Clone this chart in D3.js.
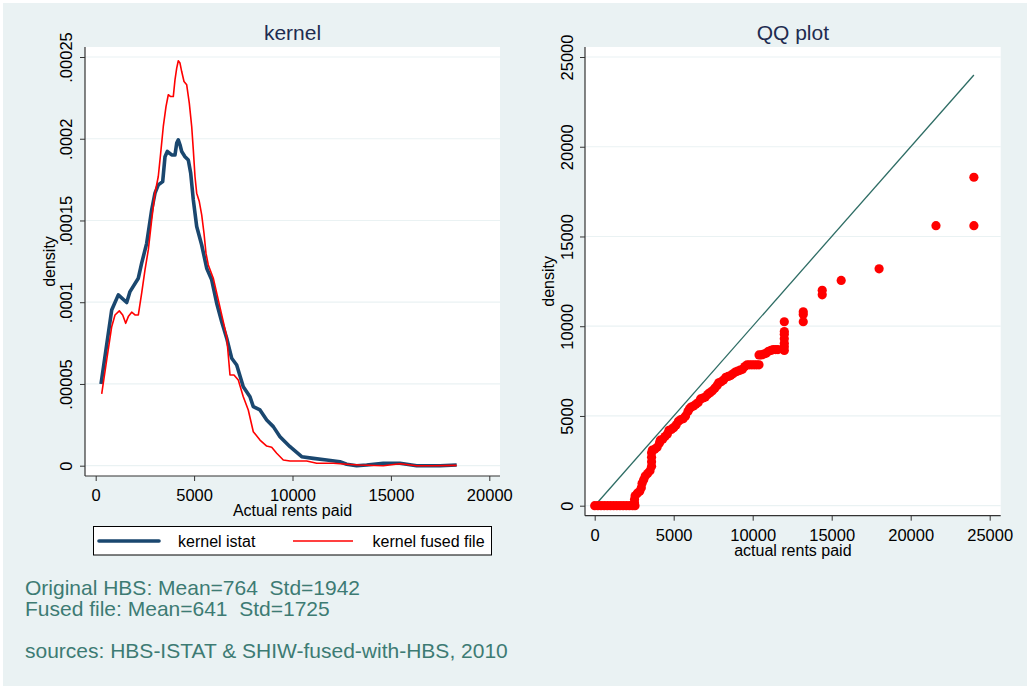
<!DOCTYPE html>
<html>
<head>
<meta charset="utf-8">
<script src="https://cdn.jsdelivr.net/npm/d3@7"></script>
<style>
  html, body { margin: 0; padding: 0; background: #ffffff; }
  svg { display: block; font-family: "Liberation Sans", Arial, Helvetica, sans-serif; }
</style>
</head>
<body>
<svg id="chart" width="1036" height="689"></svg>
<script>
// ---------------- DATA ----------------
// Kernel density of actual rents paid, HBS-ISTAT (x = rent, y = density)
const istatX = [270, 813, 1149, 1575, 1743, 2166, 2336, 2590, 2845, 3013, 3180, 3404, 3521, 3638, 3862, 4029, 4116, 4197, 4283, 4370, 4537, 4705, 4827, 4960, 5132, 5386, 5640, 5894, 6148, 6402, 6656, 6910, 7164, 7499, 7840, 8008, 8348, 8689, 9024, 9364, 9873, 10467, 11056, 11737, 12413, 12753, 13261, 13769, 14613, 15462, 16310, 17494, 18342];
const istatY = [0.0000500, 0.0000953, 0.0001045, 0.0000998, 0.0001065, 0.0001147, 0.0001239, 0.0001360, 0.0001565, 0.0001667, 0.0001718, 0.0001738, 0.0001890, 0.0001922, 0.0001901, 0.0001901, 0.0001973, 0.0001993, 0.0001963, 0.0001922, 0.0001890, 0.0001870, 0.0001790, 0.0001626, 0.0001463, 0.0001350, 0.0001208, 0.0001137, 0.0000994, 0.0000881, 0.0000780, 0.0000657, 0.0000616, 0.0000483, 0.0000422, 0.0000361, 0.0000341, 0.0000280, 0.0000239, 0.0000177, 0.0000116, 0.0000055, 0.0000045, 0.0000035, 0.0000024, 0.0000009, 0.0000000, 0.0000004, 0.0000015, 0.0000015, 0.0000000, 0.0000000, 0.0000004];

// Kernel density of actual rents paid, SHIW fused with HBS
const fusedX = [305, 559, 813, 981, 1200, 1372, 1524, 1656, 1829, 1997, 2166, 2336, 2505, 2673, 2845, 3013, 3180, 3302, 3435, 3572, 3689, 3811, 3943, 4029, 4116, 4197, 4283, 4370, 4487, 4624, 4756, 4878, 4960, 5045, 5132, 5264, 5386, 5503, 5604, 5721, 5975, 6229, 6483, 6656, 6824, 7027, 7245, 7499, 7753, 8008, 8348, 8689, 8943, 9197, 9532, 9873, 10721, 11229, 12072, 12753, 13431, 14613, 15462, 16310, 17154, 18342];
const fusedY = [0.0000439, 0.0000647, 0.0000850, 0.0000922, 0.0000947, 0.0000922, 0.0000871, 0.0000912, 0.0000939, 0.0000922, 0.0000922, 0.0001055, 0.0001198, 0.0001320, 0.0001504, 0.0001667, 0.0001769, 0.0001912, 0.0002075, 0.0002197, 0.0002269, 0.0002258, 0.0002258, 0.0002360, 0.0002432, 0.0002477, 0.0002463, 0.0002411, 0.0002350, 0.0002330, 0.0002218, 0.0002075, 0.0001932, 0.0001769, 0.0001667, 0.0001616, 0.0001534, 0.0001422, 0.0001300, 0.0001228, 0.0001147, 0.0001014, 0.0000881, 0.0000789, 0.0000555, 0.0000555, 0.0000524, 0.0000422, 0.0000341, 0.0000208, 0.0000157, 0.0000120, 0.0000113, 0.0000076, 0.0000035, 0.0000029, 0.0000029, 0.0000015, 0.0000015, 0.0000009, 0.0000004, 0.0000000, 0.0000012, 0.0000000, 0.0000000, 0.0000002];

// QQ plot: quantiles of actual rents paid (x) vs fused-file quantiles (y)
const qqX = [0, 200, 400, 600, 800, 1000, 1200, 1400, 1600, 1800, 2000, 2200, 2400, 2550,
  2520, 2520, 2560, 2700, 2850, 2950, 3000, 3100, 3200, 3350, 3500, 3600, 3600, 3600, 3600, 3650,
  3800, 3950, 4100, 4150, 4300, 4450, 4600, 4700, 4850, 5000, 5150, 5300, 5450, 5600, 5750, 5900,
  6000, 6100, 6250, 6400, 6550, 6700, 6850, 7000, 7150, 7300, 7450, 7600, 7750, 7850, 8000, 8150,
  8300, 8450, 8600, 8750, 8900, 9050, 9200, 9350, 9500, 9650, 9800, 9950, 10100, 10250, 10400,
  10400, 10550, 10700, 10850, 11000, 11150, 11300, 11450, 11600, 12000, 12000, 12000, 12000,
  12000, 12000, 12000, 13200, 13200, 13200, 14400, 14400, 15600, 18000, 21600, 24000, 24000];
const qqY = [0, 0, 0, 0, 0, 0, 0, 0, 0, 0, 0, 0, 0, 0,
  150, 350, 550, 700, 800, 1000, 1250, 1450, 1650, 1800, 1950, 2200, 2450, 2700, 2950, 3100,
  3150, 3250, 3500, 3650, 3700, 3850, 4000, 4200, 4250, 4350, 4500, 4700, 4800, 4850, 5000, 5250,
  5400, 5500, 5550, 5650, 5750, 5950, 6000, 6050, 6200, 6300, 6400, 6550, 6700, 6850, 6900, 7000,
  7150, 7200, 7250, 7350, 7450, 7500, 7550, 7600, 7750, 7850, 7850, 7850, 7850, 7850, 7850,
  8400, 8400, 8450, 8500, 8600, 8650, 8700, 8700, 8700, 8650, 8850, 9050, 9300,
  9550, 9700, 10250, 10250, 10650, 10800, 11750, 12000, 12550, 13200, 15600, 15600, 18300];
const qqLine = [0, 24000];

const kernelXTicks = [0, 5000, 10000, 15000, 20000];
const kernelYTicks = [0, 0.00005, 0.0001, 0.00015, 0.0002, 0.00025];
const kernelYLabels = ["0", ".00005", ".0001", ".00015", ".0002", ".00025"];
const qqTicks = [0, 5000, 10000, 15000, 20000, 25000];

const legendLabels = ["kernel istat", "kernel fused file"];
const noteLines = ["Original HBS: Mean=764  Std=1942", "Fused file: Mean=641  Std=1725", "", "sources: HBS-ISTAT & SHIW-fused-with-HBS, 2010"];

// ---------------- STYLE ----------------
const BG = "#eaf2f3", TITLE = "#1e2c50", NOTE = "#3d7b73", AXIS = "#333333";
const BLUE = "#1a476f", RED = "#ff0000", TEAL = "#2d6c64";

const svg = d3.select("#chart");
svg.append("rect").attr("x", 0).attr("y", 0).attr("width", 1036).attr("height", 689).attr("fill", "#ffffff");
svg.append("rect").attr("x", 3).attr("y", 3).attr("width", 1024).attr("height", 683).attr("fill", BG);

function panel(opts) {
  const g = svg.append("g");
  const [x0, x1] = opts.plotX, [y0, y1] = opts.plotY;
  g.append("rect").attr("x", x0).attr("y", y0).attr("width", x1 - x0).attr("height", y1 - y0).attr("fill", "#ffffff");
  // grid
  g.selectAll("line.grid").data(opts.yTicks).join("line")
    .attr("x1", x0).attr("x2", x1)
    .attr("y1", d => opts.y(d)).attr("y2", d => opts.y(d))
    .attr("stroke", BG).attr("stroke-width", 1.2);
  // axes
  const ay = g.append("g").attr("transform", `translate(${x0},0)`)
    .call(d3.axisLeft(opts.y).tickValues(opts.yTicks).tickFormat(opts.yFmt).tickSize(5).tickSizeOuter(0));
  ay.select(".domain").remove();
  ay.selectAll(".tick line").attr("stroke", AXIS);
  ay.selectAll("text").attr("x", null).attr("dy", null).attr("y", null)
    .attr("text-anchor", "middle").attr("transform", `translate(${opts.yLabOff},0) rotate(-90)`)
    .attr("font-size", 16.5).attr("fill", "#000").attr("font-family", null);
  const ax = g.append("g").attr("transform", `translate(0,${y1})`)
    .call(d3.axisBottom(opts.x).tickValues(opts.xTicks).tickFormat(d3.format("d")).tickSize(5).tickSizeOuter(0));
  ax.select(".domain").remove();
  ax.selectAll(".tick line").attr("stroke", AXIS);
  ax.selectAll("text").attr("dy", null).attr("y", 25).attr("font-size", 16.5).attr("fill", "#000").attr("font-family", null);
  g.append("line").attr("x1", x0).attr("x2", x0).attr("y1", y0).attr("y2", y1).attr("stroke", AXIS).attr("stroke-width", 1.2);
  g.append("line").attr("x1", x0).attr("x2", x1).attr("y1", y1).attr("y2", y1).attr("stroke", AXIS).attr("stroke-width", 1.2);
  // titles
  const cx = (x0 + x1) / 2, cy = (y0 + y1) / 2;
  g.append("text").attr("x", cx).attr("y", 40).attr("text-anchor", "middle")
    .attr("font-size", 21).attr("fill", TITLE).text(opts.title);
  g.append("text").attr("x", cx).attr("y", y1 + 40).attr("text-anchor", "middle")
    .attr("font-size", 16).attr("fill", "#000").text(opts.xTitle);
  g.append("text").attr("transform", `translate(${x0 + opts.yTitleOff},${cy}) rotate(-90)`)
    .attr("text-anchor", "middle").attr("font-size", 16).attr("fill", "#000").text(opts.yTitle);
  return g;
}

// ---------------- LEFT: kernel ----------------
const xL = d3.scaleLinear().domain([0, 20000]).range([95.7, 489.3]);
const yL = d3.scaleLinear().domain([0, 0.00025]).range([465.7, 57]);
const gL = panel({
  plotX: [85, 500], plotY: [47, 476], x: xL, y: yL,
  xTicks: kernelXTicks, yTicks: kernelYTicks,
  yFmt: (d, i) => kernelYLabels[i], yLabOff: -13,
  title: "kernel", xTitle: "Actual rents paid", yTitle: "density", yTitleOff: -30
});
const lineL = d3.line().x(d => xL(d[0])).y(d => yL(d[1]));
gL.append("path").datum(istatX.map((x, i) => [x, istatY[i]]))
  .attr("d", lineL).attr("fill", "none").attr("stroke", BLUE).attr("stroke-width", 3.6).attr("stroke-linejoin", "round");
gL.append("path").datum(fusedX.map((x, i) => [x, fusedY[i]]))
  .attr("d", lineL).attr("fill", "none").attr("stroke", RED).attr("stroke-width", 1.6).attr("stroke-linejoin", "round");

// legend
const lg = svg.append("g");
lg.append("rect").attr("x", 93.5).attr("y", 526.5).attr("width", 398).attr("height", 28.5)
  .attr("fill", "#fff").attr("stroke", "#000").attr("stroke-width", 1);
lg.append("line").attr("x1", 99).attr("x2", 159).attr("y1", 541).attr("y2", 541)
  .attr("stroke", BLUE).attr("stroke-width", 3.6).attr("stroke-linecap", "round");
lg.append("line").attr("x1", 293).attr("x2", 353).attr("y1", 541).attr("y2", 541)
  .attr("stroke", RED).attr("stroke-width", 1.6);
lg.selectAll("text").data(legendLabels).join("text")
  .attr("x", (d, i) => i === 0 ? 178 : 372.5).attr("y", 547)
  .attr("font-size", 16).attr("fill", "#000").text(d => d);

// ---------------- RIGHT: QQ plot ----------------
const xR = d3.scaleLinear().domain([0, 25000]).range([594.7, 989.7]);
const yR = d3.scaleLinear().domain([0, 25000]).range([505.7, 57]);
const gR = panel({
  plotX: [585, 1000.7], plotY: [47, 515.7], x: xR, y: yR,
  xTicks: qqTicks, yTicks: qqTicks,
  yFmt: d3.format("d"), yLabOff: -12,
  title: "QQ plot", xTitle: "actual rents paid", yTitle: "density", yTitleOff: -31
});
gR.append("line")
  .attr("x1", xR(qqLine[0])).attr("y1", yR(qqLine[0]))
  .attr("x2", xR(qqLine[1])).attr("y2", yR(qqLine[1]))
  .attr("stroke", TEAL).attr("stroke-width", 1.3);
gR.selectAll("circle.qq").data(qqX.map((x, i) => [x, qqY[i]])).join("circle")
  .attr("cx", d => xR(d[0])).attr("cy", d => yR(d[1])).attr("r", 4.6).attr("fill", RED);

// ---------------- notes ----------------
svg.append("g").selectAll("text").data(noteLines).join("text")
  .attr("x", 25).attr("y", (d, i) => 595 + i * 21)
  .attr("font-size", 21).attr("fill", NOTE).style("white-space", "pre").text(d => d);
</script>
</body>
</html>
